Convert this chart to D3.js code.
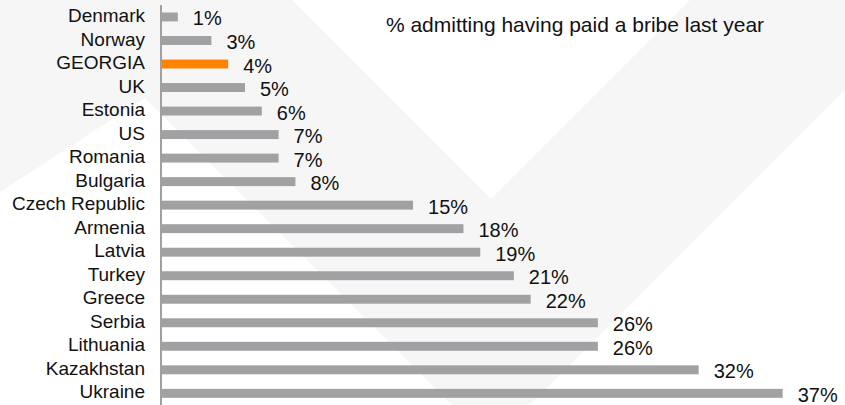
<!DOCTYPE html>
<html>
<head>
<meta charset="utf-8">
<script src="https://cdn.jsdelivr.net/npm/d3@7"></script>
<style>
  html, body { margin: 0; padding: 0; background: #fff; }
  svg { display: block; font-family: "Liberation Sans", Arial, Helvetica, sans-serif; }
</style>
</head>
<body>
<svg id="chart" width="845" height="405"></svg>
<script>
// Bribery survey: share of respondents admitting a bribe in the past year
const countries = ["Denmark", "Norway", "GEORGIA", "UK", "Estonia", "US", "Romania", "Bulgaria",
  "Czech Republic", "Armenia", "Latvia", "Turkey", "Greece", "Serbia", "Lithuania", "Kazakhstan", "Ukraine"];
const values = [1, 3, 4, 5, 6, 7, 7, 8, 15, 18, 19, 21, 22, 26, 26, 32, 37];
const highlight = ["GEORGIA"];
const title = "% admitting having paid a bribe last year";

const W = 845, H = 405;
const svg = d3.select("#chart");

// Decorative chevron backdrop
const bgShape = [[0, 0], [292, 0], [491, 199], [690, 0], [935, 0], [491, 444], [145, 98], [0, 192]];
svg.append("path")
  .attr("d", d3.line()(bgShape) + "Z")
  .attr("fill", "#f6f6f7");

const x = d3.scaleLinear().domain([0, 37]).range([161, 782.7]);
const y = d3.scaleBand().domain(countries).range([5.2, 405.1]).paddingInner(0.62).paddingOuter(0.31);

// Bars
svg.append("g").selectAll("rect")
  .data(countries)
  .join("rect")
  .attr("x", x(0))
  .attr("y", d => y(d))
  .attr("width", (d, i) => x(values[i]) - x(0))
  .attr("height", y.bandwidth())
  .attr("fill", d => highlight.includes(d) ? "#ff8200" : "#a1a1a4");

// Category axis
const yAxis = svg.append("g")
  .attr("transform", `translate(${x(0)},0)`)
  .call(d3.axisLeft(y).tickSize(0).tickPadding(16));
yAxis.select(".domain").remove();
yAxis.selectAll("text")
  .attr("dy", null)
  .attr("dominant-baseline", "middle")
  .style("font-size", "19px")
  .style("font-family", "'Liberation Sans', Arial, sans-serif")
  .attr("fill", "#111");

// Axis line
svg.append("line")
  .attr("x1", x(0)).attr("x2", x(0))
  .attr("y1", 5).attr("y2", H)
  .attr("stroke", "#a0a0a0")
  .attr("stroke-width", 2);

// Value labels
svg.append("g").selectAll("text")
  .data(countries)
  .join("text")
  .attr("x", (d, i) => x(values[i]) + 15)
  .attr("y", d => y(d) + y.bandwidth() / 2 + 8.5)
  .attr("font-size", "20px")
  .attr("fill", "#111")
  .text((d, i) => values[i] + "%");

// Title
svg.append("text")
  .attr("x", 575)
  .attr("y", 32)
  .attr("text-anchor", "middle")
  .attr("font-size", "21px")
  .attr("fill", "#111")
  .text(title);
</script>
</body>
</html>
